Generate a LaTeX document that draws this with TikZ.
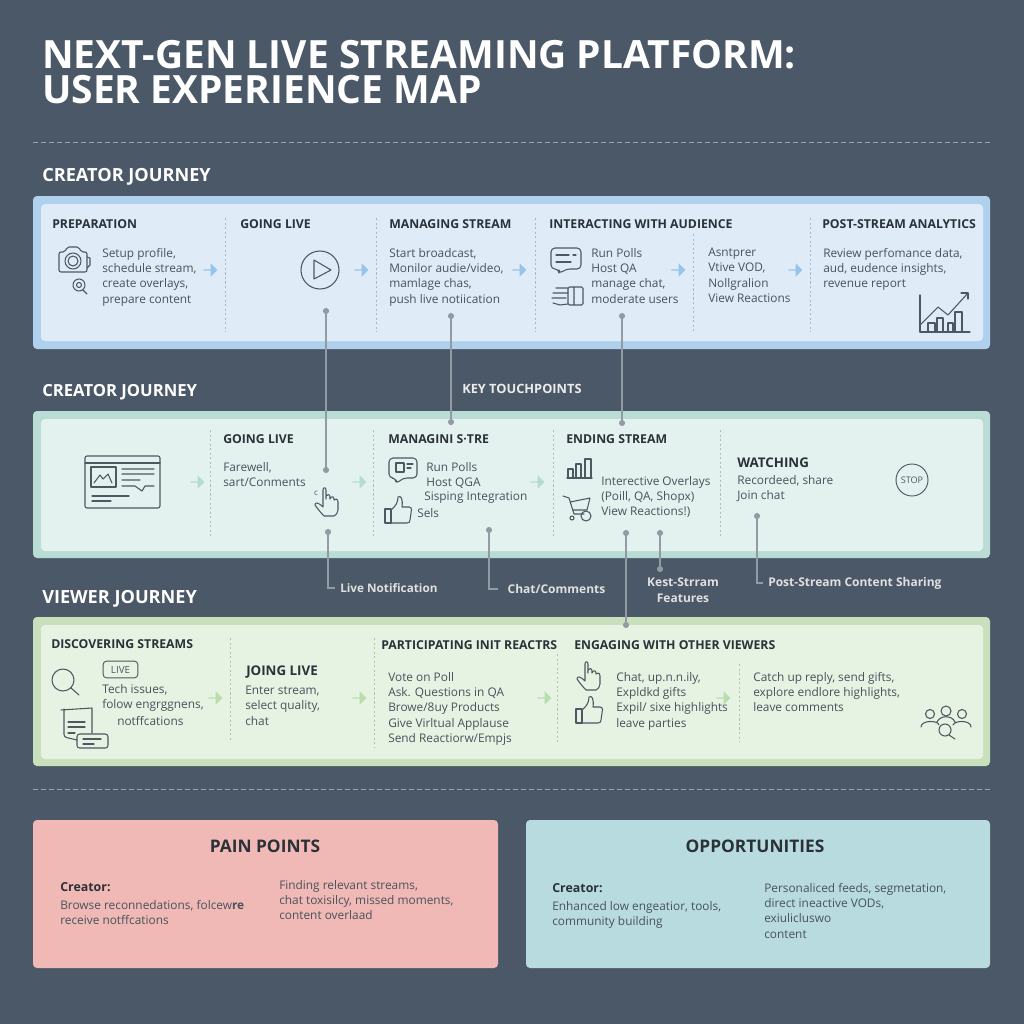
\documentclass[tikz,border=0pt]{standalone}
\usepackage{fontspec}
\setmainfont{Open Sans}
\usetikzlibrary{shapes.arrows}
\definecolor{bgc}{HTML}{4B5867}
\definecolor{bodyc}{HTML}{48525C}
\definecolor{hdrc}{HTML}{2B3138}
\definecolor{iconc}{HTML}{4D5863}
\definecolor{linec}{HTML}{929AA3}
\definecolor{blueo}{HTML}{AFD1EE}
\definecolor{bluei}{HTML}{DFECF8}
\definecolor{bluea}{HTML}{96C4EA}
\definecolor{teelo}{HTML}{B9DCD5}
\definecolor{teeli}{HTML}{E4F2EF}
\definecolor{teela}{HTML}{B3DCD0}
\definecolor{greeno}{HTML}{C9E0BC}
\definecolor{greeni}{HTML}{E6F2E2}
\definecolor{greena}{HTML}{B9DEAE}
\definecolor{painc}{HTML}{F0B9B5}
\definecolor{oppc}{HTML}{B8DBE0}
\tikzset{
	panel/.style={draw=none, rounded corners=3pt},
	body/.style={anchor=north west, inner sep=0pt, align=left, text=bodyc, yshift=3.9pt, font=\fontsize{8.9}{11.5}\selectfont},
	hdr/.style={anchor=west, inner sep=0pt, text=hdrc, font=\fontsize{9.2}{11}\selectfont\bfseries},
	sect/.style={anchor=west, inner sep=0pt, text=white, font=\fontsize{13.6}{15}\selectfont\bfseries},
	boxtitle/.style={inner sep=0pt, text=hdrc, font=\fontsize{13}{15}\selectfont\bfseries},
	tplabel/.style={anchor=west, inner xsep=3.75pt, inner ysep=0pt, text=white!88!black, font=\fontsize{9}{12}\selectfont\bfseries},
	tdot/.style={circle, fill=linec, inner sep=0pt, minimum size=4.6pt},
	tline/.style={draw=linec, line width=1pt},
	flow/.style={single arrow, inner sep=0pt, minimum height=10.5pt, minimum width=10pt, single arrow head extend=2pt, single arrow tip angle=90},
	divider/.style={dash pattern=on 1.6pt off 1.8pt, line width=.6pt},
	icon/.style={draw=iconc, line width=.8pt, line join=round, line cap=round},
	handicon/.pic={
		\draw[icon] (-3,14) .. controls (-6,11) and (-10,6) .. (-12,3) .. controls (-12,0) and (-9,0) .. (-4,5) -- (-4,-12) .. controls (-4,-15) and (-1,-15) .. (-1,-12) -- (-1,-3) -- (-1,-6) .. controls (0,-8) and (3,-8) .. (3,-5) -- (3,-3) .. controls (4,-6) and (7,-6) .. (7,-3) -- (7,-2) .. controls (8,-4) and (11,-3) .. (11,0) -- (11,8) .. controls (11,11) and (9,13) .. (7,14) -- cycle;
	},
	thumbicon/.pic={
		\draw[icon] (-13,-1) rectangle (-7,13);
		\draw[icon] (-7,0) .. controls (-2,-4) and (0,-8) .. (0,-13) .. controls (3,-15) and (5,-11) .. (4,-3) -- (11,-3) .. controls (14,-3) and (14,1) .. (13,3) -- (12,10) .. controls (12,12) and (11,13) .. (9,13) -- (-7,13);
	},
}
\begin{document}
\begin{tikzpicture}[x=.75pt, y=-.75pt]
	\useasboundingbox (0,0) rectangle (1024,1024);
	\fill[bgc] (0,0) rectangle (1024,1024);
	\node[anchor=north west, inner sep=0pt, align=left, text=white, font=\fontsize{29.2}{26.3}\selectfont\bfseries] (title) at (42,40) {NEXT-GEN LIVE STREAMING PLATFORM:\\USER EXPERIENCE MAP};
	\draw[white!45!bgc, dash pattern=on 3.5pt off 2.5pt, line width=.7pt] (33,142) -- (990,142);
	\draw[white!45!bgc, dash pattern=on 3.5pt off 2.5pt, line width=.7pt] (33,789) -- (990,789);
	\node[sect] (s1) at (42,177) {CREATOR JOURNEY};
	\node[sect, font=\fontsize{12.5}{15}\selectfont\bfseries] (s2) at (42,392) {CREATOR JOURNEY};
	\node[sect] (s3) at (42,599) {VIEWER JOURNEY};
	\node[anchor=west, inner sep=0pt, text=white!92!black, font=\fontsize{9.6}{11}\selectfont\bfseries] (keytp) at (462,389) {KEY TOUCHPOINTS};

	\fill[panel, blueo] (33,196) rectangle (990,349);
	\fill[panel, bluei] (41,204) rectangle (983,341);
	\fill[panel, teelo] (33,411) rectangle (990,558);
	\fill[panel, teeli] (41,419) rectangle (983,551);
	\fill[panel, greeno] (33,617) rectangle (990,766);
	\fill[panel, greeni] (41,625) rectangle (983,759);
	\fill[panel, painc] (33,820) rectangle (498,968);
	\fill[panel, oppc] (526,820) rectangle (990,968);

	\foreach \xa/\ya in {225/218, 376/218, 535/218, 693/234, 810/218}
		\draw[divider, blueo!70!gray] (\xa,\ya) -- (\xa,332);
	\foreach \xa in {210, 373, 553, 720}
		\draw[divider, teelo!70!gray] (\xa,430) -- (\xa,538);
	\foreach \xa/\ya/\yb in {230/638/742, 374/638/747, 557/654/742, 739/664/742}
		\draw[divider, greeno!70!gray] (\xa,\ya) -- (\xa,\yb);

	\foreach \xa in {210, 361, 519, 678, 795}
		\node[flow, fill=bluea] at (\xa,270) {};
	\foreach \xa in {197, 359, 537}
		\node[flow, fill=teela] at (\xa,482) {};
	\foreach \xa in {215, 359, 544, 723}
		\node[flow, fill=greena] at (\xa,698) {};

	\node[hdr] (h1) at (52,224) {PREPARATION};
	\node[hdr] (h2) at (240,224) {GOING LIVE};
	\node[hdr] (h3) at (389,224) {MANAGING STREAM};
	\node[hdr] (h4) at (549,224) {INTERACTING WITH AUDIENCE};
	\node[hdr] (h5) at (822,224) {POST-STREAM ANALYTICS};
	\node[body] (t1) at (102,253) {Setup profile,\\schedule stream,\\create overlays,\\prepare content};
	\node[body] (t2) at (389,253) {Start broadcast,\\Monilor audie/video,\\mamlage chas,\\push live notiication};
	\node[body] (t3) at (591,253) {Run Polls\\Host QA\\manage chat,\\moderate users};
	\node[body] (t4) at (708,253) {Asntprer\\Vtive VOD,\\Nollgralion\\View Reactions};
	\node[body] (t5) at (823,253) {Review perfomance data,\\aud, eudence insights,\\revenue report};

	\node[hdr] (h6) at (223,439) {GOING LIVE};
	\node[hdr] (h7) at (388,439) {MANAGINI S·TRE};
	\node[hdr] (h8) at (566,439) {ENDING STREAM};
	\node[hdr, font=\fontsize{10}{12}\selectfont\bfseries] (h9) at (737,463) {WATCHING};
	\node[body] (t6) at (223,467) {Farewell,\\sart/Conments};
	\node[body] (t7) at (426,467) {Run Polls\\Host QGA};
	\node[body] (t8) at (424,497) {Sisping Integration};
	\node[body] (t9) at (417,513) {Sels};
	\node[body] (t10) at (601,481) {Interective Overlays\\(Poill, QA, Shopx)\\View Reactions!)};
	\node[body] (t11) at (737,480) {Recordeed, share\\Join chat};
	\node[inner sep=0pt, text=iconc, font=\fontsize{6}{7}\selectfont] (t12) at (316,493) {c};
	\node[draw=iconc, line width=.7pt, circle, minimum size=24pt, inner sep=0pt, text=iconc, font=\fontsize{6.8}{7}\selectfont] (stop) at (912,480) {STOP};

	\node[hdr] (h10) at (51,644) {DISCOVERING STREAMS};
	\node[hdr, font=\fontsize{10}{12}\selectfont\bfseries] (h11) at (246,672) {JOING LIVE};
	\node[hdr] (h12) at (381,645) {PARTICIPATING INIT REACTRS};
	\node[hdr] (h13) at (574,645) {ENGAGING WITH OTHER VIEWERS};
	\node[draw=iconc, line width=.7pt, rounded corners=2.5pt, minimum width=26pt, minimum height=12.5pt, inner sep=0pt, text=iconc, font=\fontsize{7.4}{8}\selectfont] (live) at (120.5,669.5) {LIVE};
	\node[body] (t13) at (102,689) {Tech issues,\\folow engrggnens,};
	\node[body] (t14) at (117,721) {notffcations};
	\node[body] (t15) at (245,691) {Enter stream,\\select quality,\\chat};
	\node[body] (t16) at (388,677) {Vote on Poll\\Ask. Questions in QA\\Browe/8uy Products\\Give Virltual Applause\\Send Reactiorw/Empjs};
	\node[body] (t17) at (616,677) {Chat, up.n.n.ily,\\Expldkd gifts\\Expil/ sixe highlights\\leave parties};
	\node[body] (t18) at (753,677) {Catch up reply, send gifts,\\explore endlore highlights,\\leave comments};

	\node[boxtitle] (b1) at (265,846) {PAIN POINTS};
	\node[boxtitle] (b2) at (755,846) {OPPORTUNITIES};
	\node[hdr, font=\fontsize{9.3}{11}\selectfont\bfseries] (b3) at (60,887) {Creator:};
	\node[body] (t19) at (60,905) {Browse reconnedations, folcew\textbf{re}\\receive notffcations};
	\node[body] (t20) at (279,885) {Finding relevant streams,\\chat toxisilcy, missed moments,\\content overlaad};
	\node[hdr, font=\fontsize{9.3}{11}\selectfont\bfseries] (b4) at (552,888) {Creator:};
	\node[body] (t21) at (552,906) {Enhanced low engeatior, tools,\\community building};
	\node[body] (t22) at (764,888) {Personaliced feeds, segmetation,\\direct ineactive VODs,\\exiulicluswo\\content};

	\node[tdot] (d1) at (326,311) {};
	\node[tdot] (d2) at (326,470) {};
	\node[tdot] (d3) at (451,316) {};
	\node[tdot] (d4) at (451,422) {};
	\node[tdot] (d5) at (622,316) {};
	\node[tdot] (d6) at (622,423) {};
	\node[tdot] (d7) at (328,532) {};
	\node[tdot] (d8) at (489,530) {};
	\node[tdot] (d9) at (626,533) {};
	\node[tdot] (d10) at (626,625) {};
	\node[tdot] (d11) at (660,533) {};
	\node[tdot] (d12) at (660,569) {};
	\node[tdot] (d13) at (757,516) {};
	\node[tplabel, font=\fontsize{8.8}{12}\selectfont\bfseries] (l1) at (335,588) {Live Notification};
	\node[tplabel, inner xsep=7pt] (l2) at (498,589) {Chat/Comments};
	\node[tplabel, anchor=center, align=center] (l3) at (683,590) {Kest-Strram\\Features};
	\node[tplabel] (l4) at (763,583) {Post-Stream Content Sharing};
	\draw[tline] (d1) -- (d2);
	\draw[tline] (d3) -- (d4);
	\draw[tline] (d5) -- (d6);
	\draw[tline] (d7) |- (l1.west);
	\draw[tline] (d8) |- (l2.west);
	\draw[tline] (d9) -- (d10);
	\draw[tline] (d11) -- (d12);
	\draw[tline] (d13) |- (l4.west);

	\draw[icon, rounded corners=1.5pt] (59,252) -- (65,252) -- (67,247) -- (79,247) -- (81,252) -- (87,252) -- (87,272) -- (59,272) -- cycle;
	\draw[icon] (73,261) circle (8) (73,261) circle (5);
	\draw[icon] (87,257) -- (90,258) -- (90,265) -- (87,268);
	\draw[icon] (79,285) circle (6) (79,285) circle (2.5) (83,290) -- (87,294);
	\draw[icon] (320,270) circle (19);
	\draw[icon] (314,260) -- (314,279) -- (331,270) -- cycle;
	\draw[icon, rounded corners=3pt] (551,248) -- (581,248) -- (581,269) -- (566,269) -- (559,274) -- (559,269) -- (551,269) -- cycle;
	\draw[icon] (556,255) -- (569,255) (573,255) -- (576,255) (556,262) -- (571,262);
	\draw[icon, rounded corners=1pt] (568,287) rectangle (583,305) (574,287) -- (574,305);
	\draw[icon] (568,288) -- (556,288) (553,293) -- (568,293) (552,298) -- (566,298) (553,303) -- (560,305) -- (568,304);
	\draw[icon] (920,295) -- (920,332) -- (970,332);
	\draw[icon] (920,325) -- (938,307) -- (948,315) -- (968,293);
	\draw[icon] (961,293) -- (968,293) -- (968,299);
	\draw[icon] (928,332) -- (928,323) -- (935,323) -- (935,332) (937,332) -- (937,318) -- (943,318) -- (943,332) (948,332) -- (948,323) -- (953,323) -- (953,332) (955,332) -- (955,312) -- (962,312) -- (962,332);

	\draw[icon, rounded corners=1.5pt] (85,456) rectangle (160,508);
	\draw[icon] (85,463) -- (160,463);
	\draw[icon] (91,467) rectangle (116,487);
	\draw[icon] (94,483) -- (100,475) -- (103,479) -- (108,474) -- (112,483);
	\draw[icon] (122,469) -- (154,469) (122,474) -- (154,474) (122,480) -- (140,480) (122,486) -- (135,486) -- (142,491) -- (145,486) -- (154,486);
	\draw[icon] (92,496) -- (129,496) (92,501) -- (111,501);
	\pic at (327,502) {handicon};
	\draw[icon, rounded corners=3pt] (389,458) -- (417,458) -- (417,478) -- (403,478) -- (396,484) -- (396,478) -- (389,478) -- cycle;
	\draw[icon] (396,463) -- (404,463) -- (404,472) -- (396,472) -- cycle (407,464) -- (413,464) (407,468) -- (411,468);
	\pic at (398,510) {thumbicon};
	\draw[icon] (567,478) -- (592,478);
	\draw[icon] (568,478) -- (568,469) -- (573,469) -- (573,478) (576,478) -- (576,464) -- (581,464) -- (581,478) (585,478) -- (585,459) -- (591,459) -- (591,478);
	\draw[icon] (563,496) -- (569,498) -- (574,514) -- (584,514) (570,502) -- (590,498) -- (587,510) -- (573,510);
	\draw[icon] (572,518) circle (2) (586,516) circle (5);

	\draw[icon] (63,680) circle (11) (71,688) -- (79,695);
	\draw[icon, rounded corners=2pt] (61,710) -- (92,708) (64,709) -- (64,737) -- (77,740) (92,708) -- (92,733);
	\draw[icon] (68,722) -- (85,722) (68,727) -- (85,727) (68,733) -- (75,733);
	\draw[icon, rounded corners=2pt] (77,734) rectangle (108,748);
	\draw[icon] (83,739) -- (101,739) (83,744) -- (94,744);
	\pic at (589,676) {handicon};
	\pic at (589,710) {thumbicon};
	\draw[icon] (930,714) circle (4.5) (946,711) circle (5) (962,714) circle (4.5);
	\draw[icon] (921,727) .. controls (921,720) and (938,720) .. (939,725) (937,722) .. controls (940,715) and (952,715) .. (955,722) (953,725) .. controls (955,720) and (971,720) .. (971,727);
	\draw[icon] (945,730) circle (6) (949,735) -- (955,739);
\end{tikzpicture}
\end{document}
